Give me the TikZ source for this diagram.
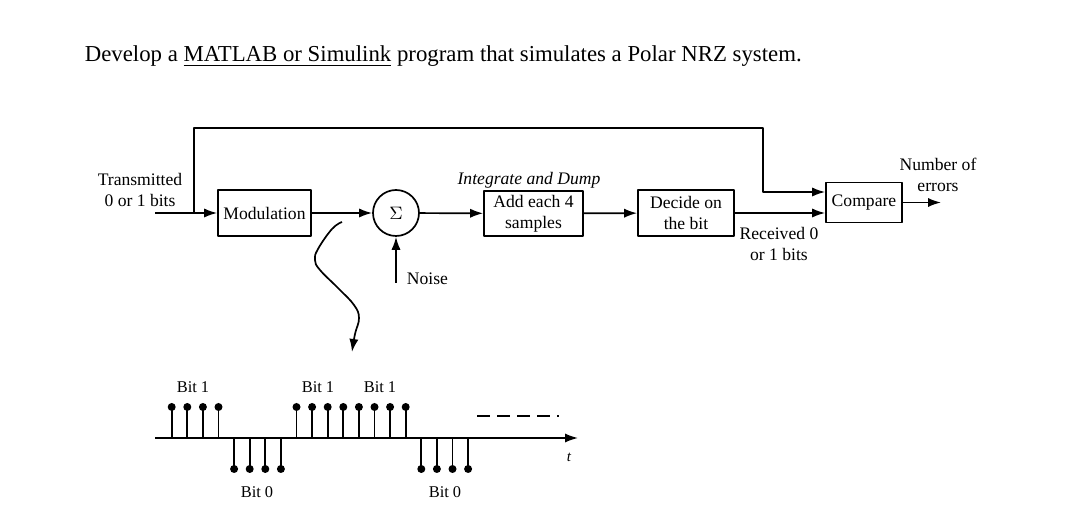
\documentclass[tikz,border=0pt]{standalone}
\usepackage{fontspec}
\setmainfont{Liberation Serif}
\usetikzlibrary{arrows.meta}
\begin{document}
\begin{tikzpicture}[x=0.5pt,y=-0.5pt,>={Latex[length=6.5pt,width=4.6pt]}, line width=0.85pt, line join=round,
	font=\fontsize{8.8}{10.4}\selectfont,
	blok/.style={draw, inner sep=1pt, align=center},
	lbl/.style={inner sep=0pt, align=center},
	smp/.style={fill, circle, inner sep=0pt, minimum size=4pt}]
	\useasboundingbox (0,0) rectangle (1088,517);
	\def\xa{171.7} \def\dx{15.6} % sample spacing
	\def\ya{438} \def\amp{31}
	% title
	\node[anchor=base west, inner sep=0pt, font=\fontsize{11.4}{13}\selectfont] (title) at (84,62)
		{Develop a \underline{MATLAB or Simulink} program that simulates a Polar NRZ system.};
	% blocks
	\node[blok, minimum width=46.5pt, minimum height=23pt] (mod) at (264.5,213) {Modulation};
	\node[draw, circle, minimum size=23pt, inner sep=0pt] (sum) at (396,213) {$\Sigma$};
	\node[blok, minimum width=49.5pt, minimum height=22.5pt] (add) at (533.5,213.5) {Add each 4\\samples};
	\node[blok, minimum width=48pt, minimum height=23pt] (dec) at (686,213) {Decide on\\the bit};
	\node[blok, minimum width=38pt, minimum height=20pt] (cmp) at (864,202.5) {Compare};
	\coordinate (in) at (155,213);
	\coordinate (tap) at (194,213);
	\coordinate (turn) at (763,128);
	\coordinate (noise) at (396,283);
	\coordinate (out) at (941,202.5);
	% labels
	\node[lbl] (tx) at (140,190) {Transmitted\\0 or 1 bits};
	\node[lbl, font=\fontsize{8.8}{10.4}\selectfont\itshape] (iad) at (529,180) {Integrate and Dump};
	\node[lbl, anchor=west] (nl) at (406,279) {Noise};
	\node[lbl] (rx) at (779,244) {Received 0\\or 1 bits};
	\node[lbl] (ne) at (938,175) {Number of\\errors};
	% connections
	\draw[->] (in) -- (mod);
	\draw[->] (tap) |- (turn) |- ([yshift=5.25pt]cmp.west);
	\draw[->] (mod) -- (sum);
	\draw[->] (noise) -- (sum);
	\draw[->] (sum) -- (add);
	\draw[->] (add) -- (dec);
	\draw[->] (dec) -- ([yshift=-5.25pt]cmp.west);
	\draw[->] (cmp) -- (out);
	% wavy pointer
	\draw[->] plot[smooth, tension=0.7] coordinates {(342,222) (332,229) (318,249) (315,260) (320,270) (339,289) (354,305) (359,318) (355,334) (352,352)};
	% samples
	\coordinate (t0) at (155,\ya);
	\coordinate (t1) at (578,\ya);
	\draw[->] (t0) -- (t1);
	\node[lbl, font=\fontsize{7.5}{9}\selectfont\itshape] (tl) at (569,457) {t};
	\foreach \s [count=\i from 0] in {1,1,1,1,-1,-1,-1,-1,1,1,1,1,1,1,1,1,-1,-1,-1,-1}{
		\draw (\xa+\dx*\i,\ya) -- (\xa+\dx*\i,{\ya-\amp*(\s)}) node[smp]{};
	}
	\draw[dash pattern=on 6.5pt off 3.5pt on 6.5pt off 3.5pt on 6.5pt off 3.5pt on 6.5pt off 3.5pt on 1pt off 9pt] (477,416) -- (560,416);
	\node[lbl, font=\fontsize{8.2}{10}\selectfont] (b1) at (193,387) {Bit 1};
	\node[lbl, font=\fontsize{8.2}{10}\selectfont] (b2) at (318,387) {Bit 1};
	\node[lbl, font=\fontsize{8.2}{10}\selectfont] (b3) at (380,387) {Bit 1};
	\node[lbl, font=\fontsize{8.2}{10}\selectfont] (b4) at (257,492) {Bit 0};
	\node[lbl, font=\fontsize{8.2}{10}\selectfont] (b5) at (445,492) {Bit 0};
\end{tikzpicture}
\end{document}
